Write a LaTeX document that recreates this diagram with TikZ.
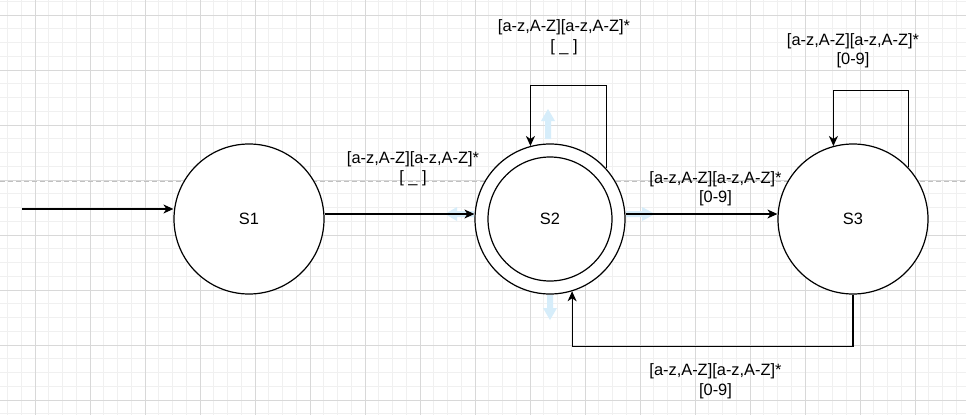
\documentclass[tikz,border=0pt]{standalone}
\usepackage{fontspec}
\setmainfont{Liberation Sans}
\usetikzlibrary{arrows.meta}
\definecolor{minorgrid}{RGB}{240,240,240}
\definecolor{majorgrid}{RGB}{216,216,216}
\definecolor{guide}{RGB}{192,192,192}
\definecolor{hoverblue}{RGB}{214,237,250}
\tikzset{
  state/.style={circle, draw=black, line width=1.2pt, fill=white, minimum size=150pt, inner sep=0pt,
    font=\fontsize{16.4}{19.5}\selectfont},
  lbl/.style={align=center, inner sep=0pt, font=\fontsize{16.4}{19.5}\selectfont, text=black},
  arr/.style={draw=black, line width=1.2pt, -{Stealth[length=10pt,width=9pt,inset=3pt]}},
  minorline/.style={draw=minorgrid, line width=0.8pt},
  majorline/.style={draw=majorgrid, line width=0.8pt},
  hover/.style={fill=hoverblue}
}
\begin{document}
\begin{tikzpicture}[x=1pt,y=-1pt]
\useasboundingbox (0,0) rectangle (966,415);
\fill[white] (0,0) rectangle (966,415);
% grid
\foreach \i in {0,...,70} {
  \draw[minorline] ({7.5+13.75*\i},0) -- ++(0,415);
}
\foreach \i in {0,...,30} {
  \draw[minorline] (0,{1.25+13.75*\i}) -- ++(966,0);
}
\foreach \i in {0,...,17} {
  \draw[majorline] ({35+55*\i},0) -- ++(0,415);
}
\foreach \i in {0,...,7} {
  \draw[majorline] (0,{15+55*\i}) -- ++(966,0);
}
% guide line
\draw[guide, line width=1pt, dash pattern=on 5pt off 3pt] (0,181) -- (966,181);

% states
\node[state] (s1) at (249,219) {S1};
\node[state] (s2) at (550,219) {S2};
\draw[black, line width=1.2pt] (s2.center) circle[radius=62];
\node[state] (s3) at (853,219) {S3};

% hover arrows around S2
\fill[hover] (545,139) -- (545,121) -- (541,121) -- (548,109) -- (555,121) -- (551,121) -- (551,139) -- cycle;
\fill[hover] (547,295) -- (547,308) -- (543,308) -- (550,320) -- (557,308) -- (553,308) -- (553,295) -- cycle;
\fill[hover] (474,211) -- (457,211) -- (457,207) -- (445,214) -- (457,221) -- (457,217) -- (474,217) -- cycle;
\fill[hover] (626,211) -- (642,211) -- (642,207) -- (655,214) -- (642,221) -- (642,217) -- (626,217) -- cycle;

% connectors
\coordinate (start) at (22,209);
\draw[arr] (start) -- ([yshift=10pt]s1.west);
\draw[arr] ([yshift=5pt]s1.east) -- ([yshift=5pt]s2.west);
\draw[arr] ([yshift=5pt]s2.east) -- ([yshift=5pt]s3.west);
\draw[arr] (s2.42.8) -- ++(0,-83) -| (s2.105.5);
\draw[arr] (s3.43.9) -- ++(0,-77) -| (s3.105.5);
\draw[arr] (s3.south) -- ++(0,52) -| (s2.-73.7);

% labels
\node[lbl] (l12) at (413,169) {[a-z,A-Z][a-z,A-Z]*\\{}[ \_ ]};
\node[lbl] (lloop2) at (564,37.5) {[a-z,A-Z][a-z,A-Z]*\\{}[ \_ ]};
\node[lbl] (lloop3) at (853,51) {[a-z,A-Z][a-z,A-Z]*\\{}[0-9]};
\node[lbl] (l23) at (715.5,189) {[a-z,A-Z][a-z,A-Z]*\\{}[0-9]};
\node[lbl] (l32) at (715.5,381.5) {[a-z,A-Z][a-z,A-Z]*\\{}[0-9]};
\end{tikzpicture}
\end{document}
